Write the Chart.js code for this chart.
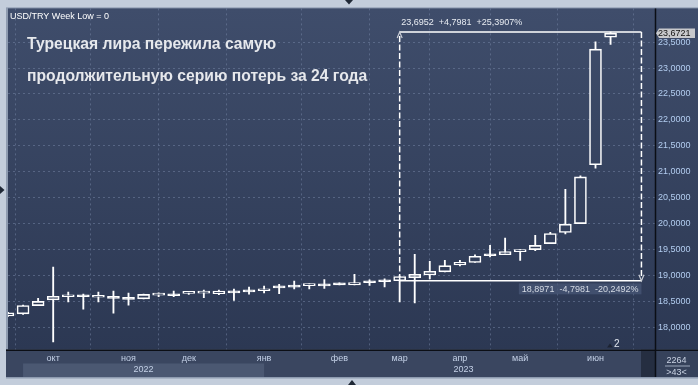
<!DOCTYPE html>
<html><head><meta charset="utf-8">
<script src="https://cdn.jsdelivr.net/npm/chart.js@4.4.0/dist/chart.umd.min.js"></script>
<style>html,body{margin:0;padding:0;background:#c3cddb;overflow:hidden}canvas{display:block}</style>
</head><body><canvas id="c" width="698" height="385"></canvas>
<script>
// ---- data ----
const weeks = ['2022-09-05','2022-09-12','2022-09-19','2022-09-26','2022-10-03','2022-10-10','2022-10-17','2022-10-24','2022-10-31',
'2022-11-07','2022-11-14','2022-11-21','2022-11-28','2022-12-05','2022-12-12','2022-12-19','2022-12-26',
'2023-01-02','2023-01-09','2023-01-16','2023-01-23','2023-01-30','2023-02-06','2023-02-13','2023-02-20','2023-02-27',
'2023-03-06','2023-03-13','2023-03-20','2023-03-27','2023-04-03','2023-04-10','2023-04-17','2023-04-24',
'2023-05-01','2023-05-08','2023-05-15','2023-05-22','2023-05-29','2023-06-05','2023-06-12'];
const opens  = [18.22,18.26,18.42,18.53,18.59,18.60,18.58,18.60,18.58,18.55,18.62,18.64,18.655,18.66,18.65,18.70,18.72,18.705,18.795,18.81,18.805,18.83,18.86,18.82,18.89,18.91,18.90,18.96,19.01,19.07,19.205,19.25,19.41,19.40,19.46,19.50,19.615,19.83,20.00,21.135,23.595];
const highs  = [18.29,18.43,18.56,19.16,18.68,18.64,18.68,18.70,18.66,18.64,18.665,18.70,18.68,18.72,18.72,18.74,18.775,18.795,18.83,18.89,18.84,18.92,18.86,19.02,18.915,18.935,18.99,19.41,19.275,19.29,19.29,19.40,19.58,19.72,19.50,19.775,19.83,20.66,20.92,23.505,23.6952];
const lows   = [18.21,18.25,18.42,17.72,18.49,18.35,18.49,18.275,18.43,18.55,18.59,18.59,18.635,18.57,18.63,18.52,18.64,18.665,18.65,18.74,18.74,18.75,18.82,18.82,18.81,18.78,18.49,18.47,18.935,19.07,19.185,19.25,19.36,19.40,19.29,19.48,19.615,19.80,20.00,21.07,23.455];
const closes = [18.28,18.42,18.50,18.60,18.60,18.59,18.59,18.56,18.54,18.635,18.63,18.61,18.665,18.67,18.70,18.665,18.685,18.715,18.76,18.775,18.815,18.80,18.82,18.865,18.86,18.88,18.98,19.02,19.08,19.19,19.255,19.37,19.38,19.46,19.50,19.58,19.81,19.99,20.90,23.365,23.6721];
const monthTickIdx = [3,8,12,17,22,26,30,34,39];
const monthLabels  = ['окт','ноя','дек','янв','фев','мар','апр','май','июн'];
const years     = ['2022','2023'];
const yearSpans = [[1,17],[17,42.95]];
const yTicks = [18,18.5,19,19.5,20,20.5,21,21.5,22,22.5,23,23.5];
const measure = {fromIdx:26, toIdx:42.05, low:18.8971, high:23.6952};
const titleLines = ['Турецкая лира пережила самую','продолжительную серию потерь за 24 года'];
const seriesName = 'USD/TRY Week Low = 0';
const barCount = '2264', visibleRange = '>43<', eventCount = '2';

// ---- helpers ----
const fmt = v => v.toFixed(4).replace('.', ',');
const FONT = '"Liberation Sans", Arial, sans-serif';
function areaGrad(ctx, top, bottom){
  const g = ctx.createLinearGradient(0, top, 0, bottom);
  g.addColorStop(0, '#3f4d6b'); g.addColorStop(1, '#2c3853'); return g;
}
function tri(ctx, pts, color){ ctx.beginPath(); ctx.moveTo(pts[0],pts[1]); ctx.lineTo(pts[2],pts[3]); ctx.lineTo(pts[4],pts[5]); ctx.closePath(); ctx.fillStyle=color; ctx.fill(); }

const decor = {
  id:'decor',
  beforeDraw(chart){
    const {ctx, chartArea:a, scales:{x}} = chart;
    ctx.save();
    ctx.fillStyle = '#c3cddb'; ctx.fillRect(0,0,chart.width,chart.height);
    ctx.fillStyle = '#8e9bb0'; ctx.fillRect(a.left-2, a.top-1, chart.width-a.left+2, a.bottom-a.top+30);
    ctx.fillStyle = areaGrad(ctx, a.top, a.bottom);
    ctx.fillRect(a.left, a.top, chart.width - a.left, a.bottom - a.top);
    ctx.fillStyle = '#3a4660'; ctx.fillRect(a.left-2, a.bottom, 641-(a.left-2), 27.5);
    const b0 = x.getPixelForValue(yearSpans[0][0]), b1 = x.getPixelForValue(yearSpans[0][1]);
    ctx.fillStyle = '#4b5872'; ctx.fillRect(b0, a.bottom+14, b1-b0, 13.5);
    ctx.fillStyle = '#252e41'; ctx.fillRect(641, a.bottom, a.right-641, 27.5);
    ctx.fillStyle = '#36425b'; ctx.fillRect(a.right, a.bottom, chart.width-a.right, 27.5);
    ctx.restore();
  },
  afterDraw(chart){
    const {ctx, chartArea:a, scales:{x,y}} = chart;
    ctx.save();
    ctx.strokeStyle = '#0b0e15'; ctx.lineWidth = 1.5;
    ctx.beginPath(); ctx.moveTo(a.left-2, a.bottom+0.75); ctx.lineTo(chart.width, a.bottom+0.75); ctx.stroke();
    ctx.beginPath(); ctx.moveTo(a.right+0.5, a.top); ctx.lineTo(a.right+0.5, a.bottom+27.5); ctx.stroke();
    ctx.font = '9px ' + FONT; ctx.fillStyle = '#c3d0e6'; ctx.textAlign='center'; ctx.textBaseline='middle';
    years.forEach((t,i)=>{ const p0=x.getPixelForValue(yearSpans[i][0]), p1=x.getPixelForValue(yearSpans[i][1]); ctx.fillText(t,(p0+p1)/2 + (i?4:0), a.bottom+20.5); });
    ctx.fillStyle = '#c9d2e3';
    ctx.fillText(barCount, (a.right+chart.width)/2, a.bottom+11);
    ctx.fillText(visibleRange, (a.right+chart.width)/2, a.bottom+23);
    ctx.strokeStyle='#9aa6bb'; ctx.lineWidth=1; ctx.beginPath(); ctx.moveTo(a.right+10, a.bottom+16.5); ctx.lineTo(chart.width-8, a.bottom+16.5); ctx.stroke();
    ctx.textAlign='left'; ctx.textBaseline='alphabetic';
    ctx.fillStyle = '#ffffff'; ctx.font = '9px ' + FONT; ctx.fillText(seriesName, a.left+2, a.top+10.5);
    ctx.fillStyle = '#e6e8ec'; ctx.font = 'bold 15.7px ' + FONT;
    ctx.fillText(titleLines[0], 27, 48.5);
    ctx.fillText(titleLines[1], 27, 80.5);
    const xl = x.getPixelForValue(measure.fromIdx), xr = x.getPixelForValue(measure.toIdx);
    const yh = y.getPixelForValue(measure.high), yl = y.getPixelForValue(measure.low);
    ctx.strokeStyle = '#ffffff'; ctx.lineWidth = 1.5;
    ctx.beginPath(); ctx.moveTo(xl, yh); ctx.lineTo(xr, yh); ctx.moveTo(xl, yl); ctx.lineTo(xr, yl); ctx.stroke();
    ctx.setLineDash([6,2.5]);
    ctx.beginPath(); ctx.moveTo(xl, yh+4); ctx.lineTo(xl, yl); ctx.moveTo(xr, yh); ctx.lineTo(xr, yl-4); ctx.stroke();
    ctx.setLineDash([]);
    ctx.strokeStyle='#c8ccd4'; ctx.lineWidth=1.2;
    ctx.beginPath(); ctx.moveTo(xl-2.5, yh+6); ctx.lineTo(xl, yh); ctx.lineTo(xl+2.5, yh+6); ctx.stroke();
    ctx.beginPath(); ctx.moveTo(xr-2.5, yl-6); ctx.lineTo(xr, yl); ctx.lineTo(xr+2.5, yl-6); ctx.stroke();
    const d = measure.high - measure.low;
    const upTxt = fmt(measure.high) + '  +' + fmt(d) + '  +' + fmt(d/measure.low*100) + '%';
    const dnTxt = fmt(measure.low) + '  -' + fmt(d) + '  -' + fmt(d/measure.high*100) + '%';
    ctx.font = '9px ' + FONT; ctx.textBaseline='middle';
    ctx.fillStyle = '#e8ecf2'; ctx.fillText(upTxt, xl+1.5, yh-9);
    const w = ctx.measureText(dnTxt).width;
    ctx.fillStyle = 'rgba(72,87,118,0.75)'; ctx.fillRect(xr-w-6, yl+2.5, w+6, 11);
    ctx.fillStyle = '#d4dae4'; ctx.fillText(dnTxt, xr-w-3, yl+8.5);
    const last = closes[closes.length-1], yp = y.getPixelForValue(last);
    ctx.fillStyle = '#c8c9cc';
    ctx.beginPath(); ctx.moveTo(a.right+1, yp); ctx.lineTo(a.right+4, yp-4.7); ctx.lineTo(chart.width-3, yp-4.7); ctx.lineTo(chart.width-3, yp+4.7); ctx.lineTo(a.right+4, yp+4.7); ctx.closePath(); ctx.fill();
    ctx.fillStyle = '#111'; ctx.textAlign='left'; ctx.fillText(fmt(last), a.right+3, yp+0.5);
    tri(ctx, [607, a.bottom-2, 613, a.bottom-2, 610, a.bottom-6], '#1c2333');
    ctx.fillStyle='#dfe5ee'; ctx.font='10px ' + FONT; ctx.fillText(eventCount, 614, a.bottom-5);
    tri(ctx, [345,0,353,0,349,4.5], '#1f2836');
    tri(ctx, [348,385,356,385,352,380], '#1f2836');
    tri(ctx, [0,186,0,194,4.5,190], '#1f2836');
    ctx.restore();
  }
};

const gridColor = 'rgba(120,136,168,0.5)';
new Chart(document.getElementById('c'), {
  type: 'bar',
  data: { datasets: [
    { label:'body', order:0, grouped:false, barThickness:12, borderWidth:1.6, borderSkipped:false, borderColor:'#ffffff', minBarLength:2,
      data: weeks.map((w,i)=>({x:i, y:[opens[i], closes[i]]})),
      backgroundColor: c => {
        const ch = c.chart, i = c.dataIndex;
        if (i === undefined || closes[i] < opens[i]) return '#ffffff';
        if (!ch.chartArea) return '#34425f';
        return areaGrad(ch.ctx, ch.chartArea.top, ch.chartArea.bottom);
      } },
    { label:'wick', order:1, grouped:false, barThickness:1.2, borderWidth:0, backgroundColor:'#ffffff',
      data: weeks.map((w,i)=>({x:i, y:[lows[i], highs[i]]})) }
  ]},
  options: {
    responsive:false, animation:false, devicePixelRatio:1,
    layout:{ padding:{left:8, top:7.5, right:0, bottom:8} },
    plugins:{ legend:{display:false}, tooltip:{enabled:false} },
    scales:{
      x:{ type:'linear', min:0, max:42.95, offset:false,
          afterFit: s => { s.height = 27.5; },
          afterBuildTicks: s => { s.ticks = monthTickIdx.map(v=>({value:v})); },
          ticks:{ callback: v => monthLabels[monthTickIdx.indexOf(v)], color:'#c3d0e6', font:{size:9, family:'Liberation Sans'}, padding:4, autoSkip:false, maxRotation:0 },
          grid:{ color:gridColor, drawTicks:false, lineWidth:1 },
          border:{ display:false, dash:[2,3] } },
      y:{ type:'linear', position:'right', min:17.573, max:24.15,
          afterFit: s => { s.width = 43; },
          afterBuildTicks: s => { s.ticks = yTicks.map(v=>({value:v})); },
          ticks:{ callback: v => fmt(v), color:'#b3cdf0', font:{size:9, family:'Liberation Sans'}, padding:3 },
          grid:{ color:gridColor, drawTicks:false, lineWidth:1 },
          border:{ display:false, dash:[2,3] } }
    }
  },
  plugins:[decor]
});
</script>
</body></html>
